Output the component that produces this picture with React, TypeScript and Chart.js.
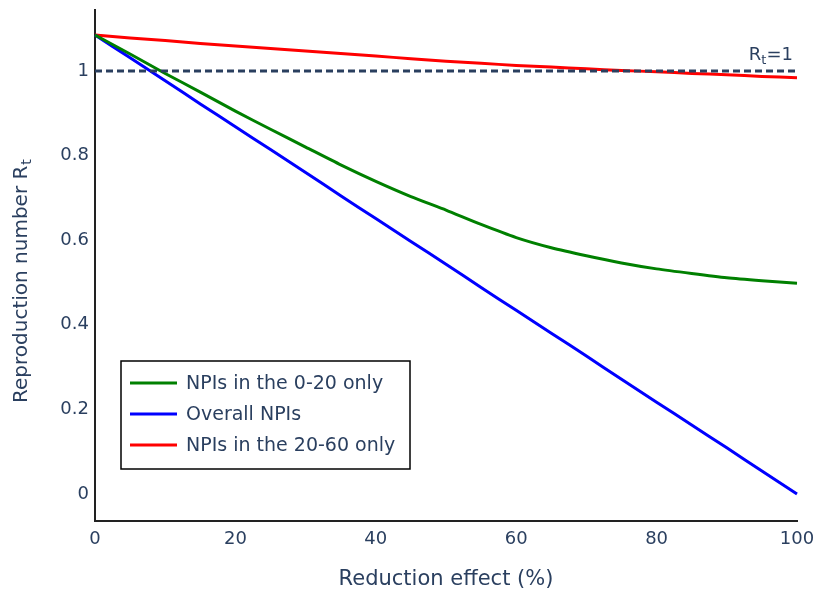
import React, { useEffect, useRef } from "react";
import { Chart, registerables } from "chart.js";

Chart.register(...registerables);

const xValues = [0, 5, 10, 15, 20, 25, 30, 35, 40, 45, 50, 55, 60, 65, 70, 75, 80, 85, 90, 95, 100];
const npi020 = [1.085, 1.040, 0.994, 0.950, 0.905, 0.862, 0.820, 0.778, 0.739, 0.703, 0.671, 0.637, 0.606, 0.582, 0.563, 0.546, 0.532, 0.521, 0.511, 0.504, 0.498];
const overall = [1.085, 1.031, 0.977, 0.922, 0.868, 0.814, 0.760, 0.705, 0.651, 0.597, 0.543, 0.488, 0.434, 0.380, 0.326, 0.271, 0.217, 0.163, 0.109, 0.054, 0.0];
const npi2060 = [1.085, 1.078, 1.072, 1.065, 1.059, 1.053, 1.047, 1.041, 1.035, 1.029, 1.023, 1.018, 1.013, 1.009, 1.005, 1.001, 0.998, 0.994, 0.991, 0.987, 0.984];
const refX = [0, 100];
const refY = [1, 1];
const yTicks = [0, 0.2, 0.4, 0.6, 0.8, 1];
const xTicks = [0, 20, 40, 60, 80, 100];
const labels = ["NPIs in the 0-20 only", "Overall NPIs", "NPIs in the 20-60 only"];
const colors = ["#008000", "#0000ff", "#ff0000"];

const TEXT = "#2a3f5f";
const FONT = "DejaVu Sans";

const pts = (xs: number[], ys: number[]) => xs.map((x, i) => ({ x, y: ys[i] }));

const overlay = {
  id: "overlay",
  afterDraw(chart: any) {
    const ctx = chart.ctx;
    const xs = chart.scales.x;
    const ys = chart.scales.y;
    const area = chart.chartArea;
    ctx.save();
    ctx.fillStyle = TEXT;
    // x title
    ctx.font = `21px ${FONT}`;
    ctx.textAlign = "center";
    ctx.textBaseline = "middle";
    ctx.fillText("Reduction effect (%)", (area.left + area.right) / 2, 580);
    // y title with subscript
    ctx.save();
    ctx.translate(22, 403);
    ctx.rotate(-Math.PI / 2);
    ctx.textAlign = "left";
    ctx.textBaseline = "middle";
    ctx.font = `20px ${FONT}`;
    const main = "Reproduction number R";
    ctx.fillText(main, 0, 0);
    const w = ctx.measureText(main).width;
    ctx.font = `14px ${FONT}`;
    ctx.fillText("t", w + 1, 5);
    ctx.restore();
    // annotation Rt=1
    const right = xs.getPixelForValue(100) - 4;
    const base = ys.getPixelForValue(1) - 11;
    ctx.textBaseline = "alphabetic";
    ctx.textAlign = "left";
    ctx.font = `18px ${FONT}`;
    const wR = ctx.measureText("R").width;
    const wEq = ctx.measureText("=1").width;
    ctx.font = `13px ${FONT}`;
    const wt = ctx.measureText("t").width;
    const x0 = right - (wR + wt + wEq);
    ctx.font = `18px ${FONT}`;
    ctx.fillText("R", x0, base);
    ctx.font = `13px ${FONT}`;
    ctx.fillText("t", x0 + wR, base + 4);
    ctx.font = `18px ${FONT}`;
    ctx.fillText("=1", x0 + wR + wt, base);
    // legend
    const bx = 121, by = 361, bw = 289, bh = 108;
    ctx.fillStyle = "#ffffff";
    ctx.fillRect(bx, by, bw, bh);
    ctx.strokeStyle = "#000000";
    ctx.lineWidth = 1.5;
    ctx.strokeRect(bx, by, bw, bh);
    ctx.font = `19px ${FONT}`;
    ctx.textBaseline = "middle";
    const items = chart.data.datasets.filter((d: any) => d.label && !d.isRef);
    items.forEach((d: any, i: number) => {
      const cy = 383 + i * 31;
      ctx.strokeStyle = d.borderColor;
      ctx.lineWidth = 3;
      ctx.beginPath();
      ctx.moveTo(130, cy);
      ctx.lineTo(177, cy);
      ctx.stroke();
      ctx.fillStyle = TEXT;
      ctx.fillText(d.label, 186, cy + 1);
    });
    ctx.restore();
  },
};

export default function App() {
  const ref = useRef<HTMLCanvasElement | null>(null);
  useEffect(() => {
    if (!ref.current) return;
    const chart = new Chart(ref.current, {
      type: "line",
      data: {
        datasets: [
          {
            label: "",
            isRef: true,
            data: pts(refX, refY),
            borderColor: "#2a3f5f",
            borderWidth: 3,
            borderDash: [7, 4],
            pointRadius: 0,
            order: 0,
          } as any,
          ...[npi020, overall, npi2060].map((ys, i) => ({
            label: labels[i],
            data: pts(xValues, ys),
            borderColor: colors[i],
            backgroundColor: colors[i],
            borderWidth: 3,
            pointRadius: 0,
            tension: 0.2,
            clip: false as any,
            order: i + 1,
          })),
        ],
      },
      options: {
        animation: false,
        responsive: false,
        events: [],
        layout: { padding: { top: 10, right: 21, left: 0, bottom: 0 } },
        plugins: { legend: { display: false }, tooltip: { enabled: false } },
        scales: {
          x: {
            type: "linear",
            min: 0,
            max: 100,
            afterFit: (s: any) => { s.height = 73; s.paddingLeft = 0; s.paddingRight = 0; },
            afterBuildTicks: (s: any) => { s.ticks = xTicks.map((v) => ({ value: v })); },
            grid: { display: false, drawTicks: false },
            border: { display: true, color: "#222222", width: 2 },
            ticks: { color: TEXT, font: { family: FONT, size: 18 }, padding: 8, maxRotation: 0 },
          },
          y: {
            type: "linear",
            min: -0.064,
            max: 1.144,
            afterFit: (s: any) => { s.width = 95; s.paddingTop = 0; s.paddingBottom = 0; },
            afterBuildTicks: (s: any) => { s.ticks = yTicks.map((v) => ({ value: v })); },
            grid: { display: false, drawTicks: false },
            border: { display: true, color: "#222222", width: 2 },
            ticks: {
              color: TEXT,
              font: { family: FONT, size: 18 },
              padding: 6,
              callback: (v: any) => String(Math.round(Number(v) * 10) / 10),
            },
          },
        },
      },
      plugins: [overlay],
    });
    return () => chart.destroy();
  }, []);
  return (
    <div style={{ position: "fixed", left: 0, top: 0, width: 818, height: 594, background: "#fff" }}>
      <canvas ref={ref} width={818} height={594} style={{ width: 818, height: 594 }} />
    </div>
  );
}
